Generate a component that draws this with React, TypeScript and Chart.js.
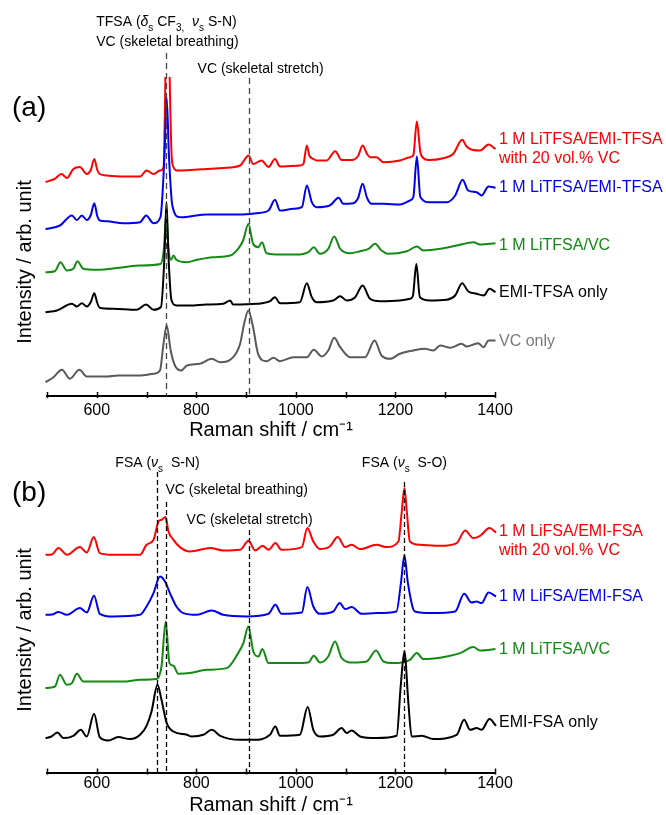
import React, { useEffect, useRef } from 'react';
import { Chart, registerables } from 'chart.js';

Chart.register(...registerables);

const FONT = '"Liberation Sans", Arial, Helvetica, sans-serif';
Chart.defaults.font.family = FONT;

// ---------- shared axis data ----------
const X_MIN = 500;
const X_MAX = 1400;
const X_TICK_STEP = 100;
const X_LABEL_STEP = 200;
const X_TITLE = 'Raman shift / cm\u207B\u00B9';
const Y_TITLE = 'Intensity / arb. unit';

// ---------- panel (a) : [Raman shift, intensity (arb.)] ----------
const A_RED = [
  [497, 214], [515, 217], [529, 222], [540, 218], [553, 227], [566, 229], [580, 222], [588, 226], [595, 237], [601, 226], [606, 222],
  [620, 220.5], [653, 219.5], [687, 219.5], [700, 225.5], [714, 222], [727, 225.5], [734, 228], [741.5, 400],
  [750.5, 239], [754, 229], [761, 225.5], [787, 226], [821, 227], [854, 228], [888, 230.5], [905, 240.5],
  [914, 232], [931, 235.5], [945, 229], [958, 237], [968, 229.5], [1008, 230.5], [1015, 232], [1022, 250.5],
  [1027, 240.5], [1035, 237], [1042, 235.5], [1062, 235.5], [1079, 244.8], [1092, 236], [1112, 236],
  [1125, 240], [1134, 250.5], [1143, 242], [1149, 238.8], [1162, 238.8], [1176, 233.8], [1209, 235.5], [1229, 238.8], [1236, 241],
  [1243, 274.5], [1250, 244], [1256, 238], [1266, 236], [1296, 237.8], [1316, 242], [1334, 256.2],
  [1343, 249.5], [1356, 246], [1370, 245.5], [1387, 251.5], [1401, 247],
];
const A_BLUE = [
  [497, 167], [526, 170.5], [550, 180.5], [560, 176], [570, 180.5], [580, 176], [588, 181], [595, 192.8], [601, 180], [606, 175.5],
  [620, 174.8], [653, 172.8], [687, 173.8], [699, 180.5], [714, 172.8], [728, 179], [736, 240], [740.5, 298],
  [745, 240], [752, 190], [767, 178.8], [787, 179.5], [821, 181.5], [854, 181.5], [888, 181.5], [921, 182.8],
  [945, 185.5], [958, 196.2], [968, 185.5], [995, 187.2], [1012, 188.8], [1022, 210.5], [1032, 193.8],
  [1042, 188.8], [1068, 190.5], [1086, 198.2], [1095, 192.2], [1115, 192.8], [1125, 198], [1134, 212.2], [1143, 198], [1152, 192.2],
  [1176, 192.2], [1209, 191.5], [1229, 195.5], [1236, 199], [1243, 239.5], [1250, 199], [1269, 193.8],
  [1303, 193.8], [1320, 200.5], [1335, 216.2], [1346, 205.5], [1363, 203.8], [1373, 200.5], [1387, 209.5],
  [1401, 208.2],
];
const A_GREEN = [
  [497, 123.8], [516, 124.8], [527, 133.8], [540, 125.5], [553, 127.2], [561, 134.8], [573, 127.2], [600, 126.2],
  [653, 128.8], [687, 130.5], [728, 132], [735, 148], [739.5, 182], [744, 148], [749, 136], [754, 140.5],
  [760, 136.2], [781, 133.8], [801, 136.2], [834, 138.8], [868, 140.5], [884, 147.2], [894, 155.5], [904.5, 172],
  [914, 152.2], [924, 148.8], [932, 153.8], [941, 142.8], [968, 141.5], [1008, 141.5], [1025, 143.8],
  [1036, 148.8], [1048, 142.2], [1065, 147.2], [1077, 159.5], [1089, 147.2], [1109, 142.8], [1129, 144.8],
  [1146, 147.2], [1159, 152.2], [1172, 145.5], [1186, 142.2], [1223, 144.8], [1243, 149.5], [1256, 145.5],
  [1290, 147.2], [1323, 150.5], [1357, 153.8], [1370, 151.5], [1401, 152.8],
];
const A_BLACK = [
  [497, 83.8], [520, 85.5], [550, 92.2], [560, 89.5], [570, 92.8], [580, 89.5], [588, 94], [595, 102.8], [601, 93], [606, 88.2],
  [633, 87.2], [680, 86.2], [699, 91.5], [714, 86.2], [729, 89], [736, 140], [740, 194], [744, 140], [750, 96],
  [760, 90.5], [787, 90.5], [821, 91.5], [854, 92.2], [868, 95.5], [874, 91.5], [921, 92.2], [948, 94.8],
  [958, 98.8], [968, 92.8], [1008, 93.8], [1022, 112.8], [1032, 98.8], [1042, 93.8], [1075, 95.5],
  [1089, 99.8], [1102, 95.5], [1119, 98.8], [1134, 110.5], [1149, 97.2], [1169, 94.8], [1209, 95.5],
  [1229, 97.2], [1235, 100], [1242, 132], [1249, 99], [1269, 95.5], [1303, 96.2], [1320, 100.5], [1334, 112.8],
  [1346, 104.8], [1363, 102.2], [1377, 100.5], [1389, 107.2], [1401, 103.8],
];
const A_GRAY = [
  [497, 13.8], [513, 18.8], [530, 26.2], [546, 17.2], [565, 26.2], [580, 19.5], [620, 19.5], [643, 20.5],
  [687, 20.5], [714, 22.2], [727, 25.5], [734, 52], [740.5, 70.5], [748.5, 45.5], [757, 30.5], [770, 25.5],
  [781, 30.5], [807, 32.2], [831, 37.2], [848, 33.8], [874, 38.8], [888, 52.2], [896, 72.2], [904.5, 85.5],
  [914, 68.8], [924, 42.2], [941, 34.8], [955, 38.2], [968, 34.8], [995, 38.8], [1022, 38.8], [1036, 46.2],
  [1052, 39.5], [1065, 45.5], [1077, 58.2], [1089, 48.8], [1109, 38.8], [1139, 38.8], [1158, 55.5],
  [1172, 40.5], [1189, 37.2], [1209, 42.2], [1236, 45.5], [1259, 47.2], [1276, 45.5], [1290, 50.5],
  [1310, 48.2], [1333, 52.2], [1343, 49.5], [1366, 52.8], [1377, 48.8], [1387, 55.5], [1401, 55.5],
];
const A_MARKERS = [740, 905];

// ---------- panel (b) ----------
const B_RED = [
  [497, 217.7], [510, 218], [523, 224.4], [540, 217.7], [566, 225.4], [580, 220], [594, 235.4], [606, 219.4],
  [633, 217.7], [687, 217.7], [700, 227.7], [714, 232.7], [724, 251], [730, 252.7], [738, 255.4], [744, 241],
  [754, 232.7], [767, 225.4], [787, 221], [828, 224.4], [854, 222], [888, 222.7], [905, 231.7], [918, 222],
  [933, 226.7], [945, 222.7], [959, 229.4], [971, 222.7], [1012, 225.4], [1023, 244.4], [1035, 231],
  [1048, 223.4], [1068, 226], [1084, 235.4], [1099, 225.4], [1112, 227.7], [1129, 223.4], [1162, 227.7],
  [1182, 225.4], [1206, 231], [1212.5, 260], [1218, 284.4], [1223, 260], [1229, 231], [1249, 227.7],
  [1290, 226.7], [1323, 229.4], [1340, 242], [1356, 234.4], [1370, 236.7], [1389, 244.4], [1402, 240],
];
const B_BLUE = [
  [497, 157.7], [510, 158], [523, 160.5], [540, 157.7], [566, 164.4], [580, 160], [594.5, 176.7], [606, 158.7],
  [633, 156], [687, 157.7], [700, 166], [714, 179.4], [727, 196], [737, 191], [747, 179.4], [760, 166],
  [774, 159.4], [801, 157.7], [831, 162], [854, 157.7], [901, 156], [945, 158.7], [959, 167.7], [971, 158.7],
  [1012, 160], [1023, 185.4], [1035, 166], [1048, 158.7], [1075, 161], [1088, 169.4], [1099, 163.4],
  [1112, 165.4], [1132, 158.7], [1162, 159.4], [1202, 161], [1211, 189.4], [1218, 217], [1225, 189.4],
  [1239, 161], [1273, 159.4], [1320, 161], [1338, 178.7], [1353, 170], [1363, 171], [1373, 169.4],
  [1387, 180], [1402, 176],
];
const B_GREEN = [
  [497, 84.4], [516, 86], [526, 97.7], [540, 87.7], [550, 89.4], [560, 98.7], [573, 91], [600, 91], [653, 91],
  [687, 92.7], [720, 93.4], [730, 106], [738.4, 151], [746, 109.4], [754, 106.7], [764, 98.7], [787, 99.4],
  [821, 102.7], [861, 104.4], [884, 119.4], [894.5, 129.4], [904.5, 146], [914.5, 121], [924.6, 116],
  [932.6, 123.4], [945, 109.4], [995, 109.4], [1025, 110], [1036, 116.7], [1048.5, 110], [1065, 116],
  [1078.6, 131], [1092, 114.4], [1115, 110], [1142, 111], [1161, 122], [1176, 111], [1196, 109.4],
  [1229, 112.7], [1243, 119.4], [1256, 113.4], [1303, 116], [1330, 119.4], [1356.5, 125.4], [1370, 122],
  [1401, 123.4],
];
const B_BLACK = [
  [497, 34.4], [509, 36], [521, 40], [533, 34.4], [553, 36.7], [568, 42.7], [580, 36], [594.5, 58.7],
  [606, 35.4], [623, 32], [643, 35.4], [667, 33.4], [687, 37.7], [700, 46.7], [710, 61], [722, 87.7],
  [730, 72.7], [740.5, 49.4], [754, 41], [781, 37.7], [791, 36], [814, 37.7], [831, 42.7], [848, 36.7],
  [888, 32.7], [914.5, 32.7], [948, 37.7], [958.7, 46], [968, 36.7], [1008, 37.7], [1023.7, 65.4],
  [1035, 42.7], [1048.5, 36], [1075, 37.7], [1092, 44.4], [1102, 39.4], [1112, 42], [1129, 36], [1162, 34.4],
  [1202.5, 36.7], [1210.5, 86], [1218, 121], [1226, 69.4], [1232.6, 36], [1253, 36.7], [1276, 33.4],
  [1323, 37.7], [1338, 52.7], [1350, 42.7], [1363, 44.4], [1373, 42.7], [1389, 53.4], [1402, 46.7],
];
const B_MARKERS = [720, 740, 905, 1218];

// ---------- labels ----------
const A_LABELS = {
  red: ['1 M LiTFSA/EMI-TFSA', 'with 20 vol.% VC'],
  blue: ['1 M LiTFSA/EMI-TFSA'],
  green: ['1 M LiTFSA/VC'],
  black: ['EMI-TFSA only'],
  gray: ['VC only'],
};
const B_LABELS = {
  red: ['1 M LiFSA/EMI-FSA', 'with 20 vol.% VC'],
  blue: ['1 M LiFSA/EMI-FSA'],
  green: ['1 M LiTFSA/VC'],
  black: ['EMI-FSA only'],
};

type Seg = { t: string; sub?: boolean; it?: boolean };
type Note = { segs: Seg[]; at: number; dx: number; y: number; align: 'center' | 'left' };
type SeriesSpec = { data: number[][]; color: string; textColor: string; lines: string[]; dy: number[] };
type PanelSpec = {
  letter: string;
  canvasTop: number;
  canvasH: number;
  padTop: number;
  scaleH: number;
  tickPad: number;
  yMax: number;
  yTitleY: number;
  letterY: number;
  series: SeriesSpec[];
  markers: number[];
  markerTops: number[];
  markerColor: string;
  markerDash: number[];
  notes: Note[];
};

const RED = '#ff0000';
const BLUE = '#0000ee';
const GREEN = '#138a13';
const BLACK = '#000000';
const GRAY = '#595959';

const PANEL_A: PanelSpec = {
  letter: '(a)',
  canvasTop: 0,
  canvasH: 440,
  padTop: 77,
  scaleH: 44,
  tickPad: 5,
  yMax: 319,
  yTitleY: 262,
  letterY: 108,
  series: [
    { data: A_BLACK, color: BLACK, textColor: BLACK, lines: A_LABELS.black, dy: [0] },
    { data: A_BLUE, color: BLUE, textColor: BLUE, lines: A_LABELS.blue, dy: [0] },
    { data: A_GREEN, color: GREEN, textColor: GREEN, lines: A_LABELS.green, dy: [2] },
    { data: A_RED, color: RED, textColor: RED, lines: A_LABELS.red, dy: [-9, 9.5] },
    { data: A_GRAY, color: GRAY, textColor: '#7a7a7a', lines: A_LABELS.gray, dy: [1.5] },
  ],
  markers: A_MARKERS,
  markerTops: [53, 78],
  markerColor: '#444444',
  markerDash: [6, 4],
  notes: [
    {
      segs: [
        { t: 'TFSA (' }, { t: '\u03B4', it: true }, { t: 's', sub: true }, { t: ' CF' }, { t: '3,', sub: true },
        { t: '  ' }, { t: '\u03BD', it: true }, { t: 's', sub: true }, { t: ' S-N)' },
      ],
      at: 740, dx: 0, y: 26, align: 'center',
    },
    { segs: [{ t: 'VC (skeletal breathing)' }], at: 740, dx: 1, y: 46, align: 'center' },
    { segs: [{ t: 'VC (skeletal stretch)' }], at: 905, dx: 12, y: 73, align: 'center' },
  ],
};

const PANEL_B: PanelSpec = {
  letter: '(b)',
  canvasTop: 440,
  canvasH: 375,
  padTop: 20,
  scaleH: 42.5,
  tickPad: 1,
  yMax: 312.5,
  yTitleY: 630,
  letterY: 493,
  series: [
    { data: B_BLACK, color: BLACK, textColor: BLACK, lines: B_LABELS.black, dy: [-3] },
    { data: B_BLUE, color: BLUE, textColor: BLUE, lines: B_LABELS.blue, dy: [0] },
    { data: B_GREEN, color: GREEN, textColor: GREEN, lines: B_LABELS.green, dy: [0] },
    { data: B_RED, color: RED, textColor: RED, lines: B_LABELS.red, dy: [-1, 18] },
  ],
  markers: B_MARKERS,
  markerTops: [472, 502, 530, 482],
  markerColor: '#000000',
  markerDash: [5, 3],
  notes: [
    {
      segs: [{ t: 'FSA (' }, { t: '\u03BD', it: true }, { t: 's', sub: true }, { t: '  S-N)' }],
      at: 720, dx: 1, y: 467, align: 'center',
    },
    {
      segs: [{ t: 'FSA (' }, { t: '\u03BD', it: true }, { t: 's', sub: true }, { t: '  S-O)' }],
      at: 1218, dx: 0, y: 467, align: 'center',
    },
    { segs: [{ t: 'VC (skeletal breathing)' }], at: 740, dx: -1, y: 494, align: 'left' },
    { segs: [{ t: 'VC (skeletal stretch)' }], at: 905, dx: 1, y: 524, align: 'center' },
  ],
};

const W = 666;
const PLOT_LEFT = 47;
const PLOT_RIGHT = 495;

function drawRich(ctx: CanvasRenderingContext2D, segs: Seg[], x: number, y: number, align: string, size: number, color: string) {
  const subSize = Math.round(size * 0.72);
  const fontOf = (s: Seg) => `${s.it ? 'italic ' : ''}${s.sub ? subSize : size}px ${FONT}`;
  let total = 0;
  const widths = segs.map((s) => {
    ctx.font = fontOf(s);
    const w = ctx.measureText(s.t).width;
    total += w;
    return w;
  });
  let cx = align === 'center' ? x - total / 2 : x;
  ctx.fillStyle = color;
  ctx.textAlign = 'left';
  ctx.textBaseline = 'alphabetic';
  segs.forEach((s, i) => {
    ctx.font = fontOf(s);
    ctx.fillText(s.t, cx, s.sub ? y + 5 : y);
    cx += widths[i];
  });
}

function makeConfig(spec: PanelSpec): any {
  const off = spec.canvasTop;
  const extras = {
    id: 'extras' + spec.letter,
    afterDatasetsDraw(chart: any) {
      const ctx: CanvasRenderingContext2D = chart.ctx;
      const xs = chart.scales.x;
      const ys = chart.scales.y;
      const area = chart.chartArea;
      ctx.save();
      ctx.strokeStyle = spec.markerColor;
      ctx.lineWidth = 1.3;
      ctx.setLineDash(spec.markerDash);
      spec.markers.forEach((v, i) => {
        const px = Math.round(xs.getPixelForValue(v)) + 0.5;
        ctx.beginPath();
        ctx.moveTo(px, spec.markerTops[i] - off);
        ctx.lineTo(px, area.bottom);
        ctx.stroke();
      });
      ctx.setLineDash([]);
      spec.notes.forEach((n) => {
        drawRich(ctx, n.segs, xs.getPixelForValue(n.at) + n.dx, n.y - off, n.align, 14, '#000');
      });
      ctx.font = `16px ${FONT}`;
      ctx.textAlign = 'left';
      ctx.textBaseline = 'middle';
      spec.series.forEach((s) => {
        const last = s.data[s.data.length - 1];
        const lx = xs.getPixelForValue(X_MAX) + 4;
        const ly = ys.getPixelForValue(last[1]);
        ctx.fillStyle = s.textColor;
        s.lines.forEach((t, i) => ctx.fillText(t, lx, ly + s.dy[i]));
      });
      ctx.fillStyle = '#000';
      ctx.font = `28px ${FONT}`;
      ctx.textBaseline = 'middle';
      ctx.fillText(spec.letter, 12, spec.letterY - off);
      ctx.save();
      ctx.translate(25, spec.yTitleY - off);
      ctx.rotate(-Math.PI / 2);
      ctx.textAlign = 'center';
      ctx.textBaseline = 'middle';
      ctx.font = `20px ${FONT}`;
      ctx.fillText(Y_TITLE, 0, 0);
      ctx.restore();
      ctx.restore();
    },
    afterDraw(chart: any) {
      const ctx: CanvasRenderingContext2D = chart.ctx;
      const xs = chart.scales.x;
      const yb = chart.chartArea.bottom;
      ctx.save();
      ctx.strokeStyle = '#000';
      ctx.lineWidth = 1.5;
      xs.ticks.forEach((t: any) => {
        const px = Math.round(xs.getPixelForValue(t.value)) + 0.5;
        ctx.beginPath();
        ctx.moveTo(px, yb - 4);
        ctx.lineTo(px, yb + 2);
        ctx.stroke();
      });
      ctx.restore();
    },
  };

  return {
    type: 'scatter',
    data: {
      datasets: spec.series.map((s) => ({
        data: s.data.map((p) => ({ x: p[0], y: p[1] })),
        showLine: true,
        borderColor: s.color,
        backgroundColor: s.color,
        borderWidth: 2,
        pointRadius: 0,
        cubicInterpolationMode: 'monotone',
        clip: { left: 6, right: 10, top: 0, bottom: 4 },
      })),
    },
    options: {
      animation: false,
      responsive: false,
      maintainAspectRatio: false,
      devicePixelRatio: 1,
      events: [],
      layout: { padding: { left: PLOT_LEFT, right: W - PLOT_RIGHT, top: spec.padTop, bottom: 0 } },
      plugins: { legend: { display: false }, tooltip: { enabled: false }, title: { display: false } },
      scales: {
        x: {
          type: 'linear',
          position: 'bottom',
          min: X_MIN,
          max: X_MAX,
          afterFit: (scale: any) => {
            scale.height = spec.scaleH;
          },
          grid: { display: false, drawTicks: false },
          border: { display: true, color: '#000', width: 2 },
          ticks: {
            stepSize: X_TICK_STEP,
            autoSkip: false,
            maxRotation: 0,
            padding: spec.tickPad,
            color: '#000',
            font: { size: 16, family: FONT },
            callback: (v: any) => (Number(v) % X_LABEL_STEP === 0 ? String(v) : ''),
          },
          title: {
            display: true,
            text: X_TITLE,
            color: '#000',
            font: { size: 20, family: FONT, lineHeight: 1 },
            padding: 0,
          },
        },
        y: { display: false, min: 0, max: spec.yMax },
      },
    },
    plugins: [extras],
  };
}

function Panel({ spec }: { spec: PanelSpec }) {
  const ref = useRef<HTMLCanvasElement>(null);
  useEffect(() => {
    const chart = new Chart(ref.current as HTMLCanvasElement, makeConfig(spec));
    return () => chart.destroy();
  }, [spec]);
  return (
    <canvas
      ref={ref}
      width={W}
      height={spec.canvasH}
      style={{ position: 'absolute', left: 0, top: spec.canvasTop, width: W, height: spec.canvasH, display: 'block' }}
    />
  );
}

export default function App() {
  return (
    <div style={{ position: 'absolute', left: 0, top: 0, width: W, height: 815, overflow: 'hidden', background: '#fff' }}>
      <Panel spec={PANEL_A} />
      <Panel spec={PANEL_B} />
    </div>
  );
}
